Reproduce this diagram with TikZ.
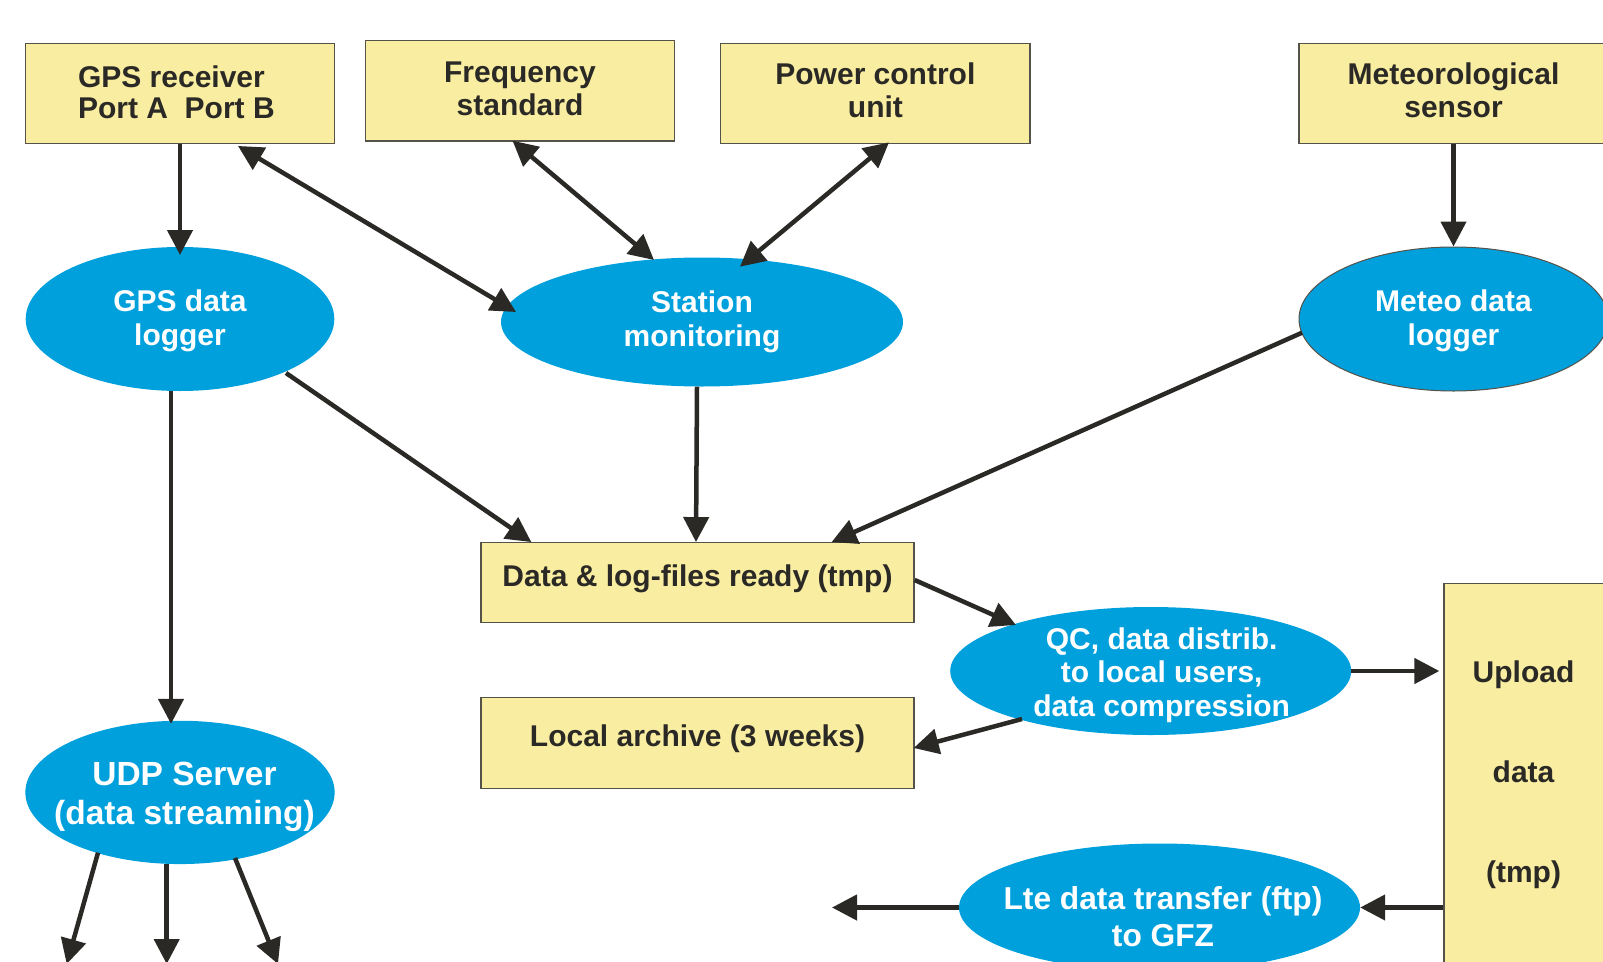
\documentclass[tikz,border=0pt]{standalone}
\usepackage{fontspec}
\setmainfont{Liberation Sans}
\usetikzlibrary{arrows.meta,shapes.geometric,calc}
\definecolor{padfill}{HTML}{F9EDA1}
\definecolor{padline}{HTML}{55524A}
\definecolor{procblue}{HTML}{00A0DC}
\definecolor{ink}{HTML}{2A2925}
\begin{document}
\begin{tikzpicture}[x=1pt,y=-1pt,
  store/.style={rectangle, draw=padline, line width=1.3pt, fill=padfill, inner sep=0pt},
  proc/.style={ellipse, fill=procblue, inner sep=0pt},
  boxtext/.style={text=ink, font=\bfseries\fontsize{30}{33}\selectfont, align=center},
  proctext/.style={text=white, font=\bfseries\fontsize{30}{33.5}\selectfont, align=center},
  flow/.style={draw=ink, line width=4.5pt, -{Triangle[length=25pt,width=25pt]}},
  both/.style={draw=ink, line width=4.5pt, {Triangle[length=25pt,width=25pt]}-{Triangle[length=25pt,width=25pt]}},
]
\useasboundingbox (0,0) rectangle (1603,961);
\fill[white] (0,0) rectangle (1603,961);
\clip (0,0) rectangle (1603,961);

% hardware units
\node[store, minimum width=309pt, minimum height=100pt,
  label={[boxtext, align=left, font=\bfseries\fontsize{30}{31}\selectfont, xshift=-3.6pt, yshift=1.5pt]center:{GPS receiver\\Port A\ \ Port B}}]
  (rx) at (180,93.3) {};
\node[store, minimum width=309pt, minimum height=100.7pt,
  label={[boxtext, yshift=1.5pt]center:{Frequency\\standard}}]
  (freq) at (520,90.7) {};
\node[store, minimum width=309.3pt, minimum height=100pt,
  label={[boxtext, yshift=3pt]center:{Power control\\unit}}]
  (power) at (875.4,93.3) {};
\node[store, minimum width=309pt, minimum height=100pt,
  label={[boxtext, yshift=3pt]center:{Meteorological\\sensor}}]
  (metsens) at (1453.5,93.3) {};

% loggers and processes
\node[proc, minimum width=308.6pt, minimum height=144pt,
  label={[proctext, yshift=-2pt]center:{GPS data\\logger}}]
  (gpslog) at (180,319) {};
\node[proc, minimum width=402pt, minimum height=129pt,
  label={[proctext]center:{Station\\monitoring}}]
  (station) at (702,322) {};
\node[proc, draw=padline, line width=1pt, minimum width=309pt, minimum height=144pt,
  label={[proctext, yshift=-2pt]center:{Meteo data\\logger}}]
  (metlog) at (1453.5,319) {};

% data stores
\node[store, minimum width=433pt, minimum height=79.6pt,
  label={[boxtext, yshift=4pt]center:{Data \& log-files ready (tmp)}}]
  (data) at (697.5,582.5) {};
\node[store, minimum width=433pt, minimum height=91pt,
  label={[boxtext, yshift=4pt]center:{Local archive (3 weeks)}}]
  (arch) at (697.5,743.2) {};
\node[store, minimum width=166pt, minimum height=416.7pt,
  label={[text=ink, font=\bfseries\fontsize{30}{100}\selectfont, align=center, xshift=-3.5pt, yshift=17pt]center:{Upload\\data\\(tmp)}}]
  (upload) at (1527,791.65) {};

\node[proc, minimum width=401pt, minimum height=128pt,
  label={[proctext, xshift=11pt, yshift=-4pt]center:{QC, data distrib.\\to local users,\\data compression}}]
  (qc) at (1150.7,671) {};
\node[proc, minimum width=401pt, minimum height=128pt,
  label={[proctext, font=\bfseries\fontsize{31.7}{37}\selectfont, xshift=3.5pt, yshift=-9pt]center:{Lte data transfer (ftp)\\to GFZ}}]
  (lte) at (1159.5,907.5) {};
\node[proc, minimum width=309.3pt, minimum height=143.3pt,
  label={[proctext, font=\bfseries\fontsize{33.5}{38.5}\selectfont, xshift=4.5pt, yshift=-4.6pt]center:{UDP Server\\(data streaming)}}]
  (udp) at (180,792.4) {};

% free ends of outgoing streams
\coordinate (ftp) at (832,907.5);
\coordinate (s1) at (66.7,964);
\coordinate (s2) at (166.7,964);
\coordinate (s3) at (278,964);

% connectors
\draw[flow] (rx.south) -- ($(gpslog.center)+(0,-64)$);
\draw[both] ($(rx.south)+(58,2)$) -- ($(station.center)+(-186,-10)$);
\draw[both] ($(freq.south)+(-7.5,-1)$) -- ($(station.center)+(-48,-62)$);
\draw[both] ($(power.south)+(13.6,-1.6)$) -- ($(station.center)+(38,-55.3)$);
\draw[flow] (metsens.south) -- (metlog.north);
\draw[flow] ($(gpslog.center)+(106,54)$) -- ($(data.north west)+(51,0)$);
\draw[flow] ($(station.south)+(-5,0)$) -- ($(data.north)+(-1.5,0)$);
\draw[flow] ($(metlog.center)+(-151.5,13.7)$) -- ($(data.north east)+(-83,0)$);
\draw[flow] ($(data.east)+(0,-2.5)$) -- ($(qc.center)+(-134.7,-46)$);
\draw[flow] (qc.east) -- ($(qc.east -| upload.west)+(-4,0)$);
\draw[flow] ($(qc.center)+(-128.7,48)$) -- ($(arch.east)+(-1,4.8)$);
\draw[flow] (lte.east -| upload.west) -- (lte.east);
\draw[flow] (lte.west) -- (ftp);
\draw[flow] ($(gpslog.south)+(-9,0)$) -- ($(udp.north)+(-9,3.3)$);
\draw[flow] ($(udp.center)+(-82,60.3)$) -- (s1);
\draw[flow] ($(udp.center)+(-13.3,71.6)$) -- (s2);
\draw[flow] ($(udp.center)+(55,65.6)$) -- (s3);
\end{tikzpicture}
\end{document}
